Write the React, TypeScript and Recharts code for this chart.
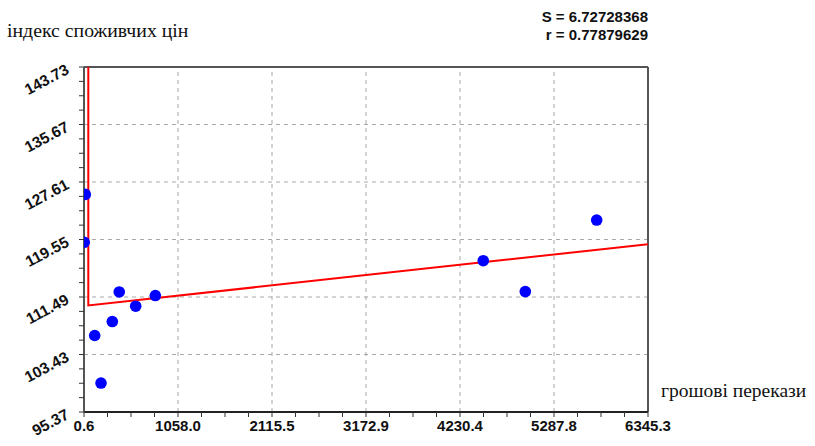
import React from 'react';
import { ComposedChart, Scatter, Line, XAxis, YAxis, ReferenceLine } from 'recharts';

// Tick values and labels
const xMajorTicks = [0.6, 1058.0, 2115.5, 3172.9, 4230.4, 5287.8, 6345.3];
const xTickLabels = ['0.6', '1058.0', '2115.5', '3172.9', '4230.4', '5287.8', '6345.3'];
const yMajorTicks = [95.37, 103.43, 111.49, 119.55, 127.61, 135.67, 143.73];
const yTickLabels = ['95.37', '103.43', '111.49', '119.55', '127.61', '135.67', '143.73'];

// Observations: remittances (x) vs consumer price index (y)
const remittances = [15, 3, 397, 582, 803, 319, 121, 192, 4492, 4965, 5768];
const cpi = [125.87, 119.16, 112.2, 110.2, 111.69, 108.05, 106.09, 99.43, 116.58, 112.25, 122.28];

// Fitted curve
const fitX = [49, 49, 6345.3];
const fitY = [150, 110.3, 118.89];

const statS = '6.72728368';
const statR = '0.77879629';
const yTitle = 'індекс споживчих цін';
const xTitle = 'грошові перекази';

const subdivide = (t: number[]) =>
  t.flatMap((v, i) => (i === t.length - 1 ? [v] : [0, 1, 2, 3].map((k) => v + ((t[i + 1] - v) * k) / 4)));

const xAllTicks = subdivide(xMajorTicks);
const yAllTicks = subdivide(yMajorTicks);

const points = remittances.map((x, i) => ({ x, y: cpi[i] }));
const fitData = fitX.map((x, i) => ({ x, y: fitY[i] }));

const tickFont = "'Liberation Sans', Arial, sans-serif";
const serif = "'Liberation Serif', 'Times New Roman', serif";

const XTick = (props: any) => {
  const { x, y, index } = props;
  if (index % 4 !== 0) return null;
  return (
    <text x={x} y={y + 12} textAnchor="middle" fontFamily={tickFont} fontWeight="bold" fontSize={15} fill="#111">
      {xTickLabels[index / 4]}
    </text>
  );
};

const YTick = (props: any) => {
  const { x, y, index } = props;
  if (index % 4 !== 0) return null;
  const tx = x - 7;
  const ty = y + 6;
  return (
    <text
      x={tx}
      y={ty}
      textAnchor="end"
      fontFamily={tickFont}
      fontWeight="bold"
      fontSize={15.5}
      fill="#111"
      transform={`rotate(-28, ${tx}, ${ty})`}
    >
      {yTickLabels[index / 4]}
    </text>
  );
};

const Dot = (p: any) => <circle cx={p.cx} cy={p.cy} r={5.8} fill="#0000ff" />;

export default function App() {
  return (
    <div style={{ position: 'absolute', left: 0, top: 0, width: 815, height: 446, background: '#fff' }}>
      <ComposedChart width={815} height={446} margin={{ top: 67, right: 167, bottom: 0, left: 0 }}>
        <XAxis
          dataKey="x"
          type="number"
          domain={[0.6, 6345.3]}
          allowDataOverflow
          ticks={xAllTicks}
          interval={0}
          height={34}
          tickSize={5}
          tickMargin={2}
          tickLine={{ stroke: '#333' }}
          axisLine={{ stroke: '#222', strokeWidth: 2 }}
          tick={<XTick />}
        />
        <YAxis
          dataKey="y"
          type="number"
          domain={[95.37, 143.73]}
          allowDataOverflow
          ticks={yAllTicks}
          interval={0}
          width={84}
          tickSize={5}
          tickMargin={2}
          tickLine={{ stroke: '#333' }}
          axisLine={{ stroke: '#555', strokeWidth: 2 }}
          tick={<YTick />}
        />
        {xMajorTicks.slice(1, -1).map((v) => (
          <ReferenceLine key={'gx' + v} x={v} stroke="#a8a8a8" strokeDasharray="4 4" />
        ))}
        {yMajorTicks.slice(1, -1).map((v) => (
          <ReferenceLine key={'gy' + v} y={v} stroke="#a8a8a8" strokeDasharray="4 4" />
        ))}
        <ReferenceLine y={143.73} stroke="#555" strokeWidth={2} />
        <ReferenceLine x={6345.3} stroke="#555" strokeWidth={2} />
        <Scatter data={points} dataKey="y" shape={<Dot />} isAnimationActive={false} />
        <Line
          data={fitData}
          dataKey="y"
          type="linear"
          stroke="#ff0000"
          strokeWidth={2}
          dot={false}
          activeDot={false}
          isAnimationActive={false}
        />
      </ComposedChart>
      <svg width={815} height={446} style={{ position: 'absolute', left: 0, top: 0, pointerEvents: 'none' }}>
        <text x={7} y={37} fontFamily={serif} fontSize={19.8} fill="#111">
          {yTitle}
        </text>
        <text x={661} y={397} fontFamily={serif} fontSize={19.5} fill="#111">
          {xTitle}
        </text>
        <text x={648} y={22} textAnchor="end" fontFamily={tickFont} fontWeight="bold" fontSize={15} fill="#111">
          {`S = ${statS}`}
        </text>
        <text x={648} y={40} textAnchor="end" fontFamily={tickFont} fontWeight="bold" fontSize={15} fill="#111">
          {`r = ${statR}`}
        </text>
      </svg>
    </div>
  );
}
